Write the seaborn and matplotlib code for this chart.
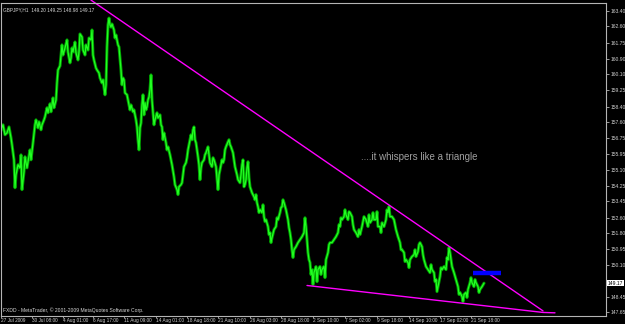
import matplotlib
matplotlib.use("Agg")
import matplotlib.pyplot as plt
import pandas as pd
import seaborn as sns

# ---------------- data ----------------
bar_pos = [1, 3, 5, 7, 9, 11, 12, 14, 15, 16, 18, 20, 21, 22, 24, 25, 27, 28, 30, 31,
           33, 35, 36, 38, 39, 41, 42, 44, 45, 47, 48, 50, 51, 53, 54, 56, 57, 58, 60, 61,
           62, 63, 65, 67, 68, 70, 71, 72, 73, 75, 76, 78, 79, 80, 82, 83, 85, 86, 88, 89,
           91, 92, 93, 94, 96, 97, 99, 100, 102, 103, 105, 106, 107, 108, 109, 110, 111, 112, 114, 115,
           116, 118, 119, 121, 122, 123, 124, 125, 127, 128, 130, 131, 133, 134, 136, 137, 138, 139, 140, 141,
           142, 143, 144, 145, 146, 147, 148, 149, 150, 151, 152, 153, 154, 155, 157, 158, 160, 161, 162, 163,
           164, 166, 167, 168, 170, 171, 172, 174, 175, 177, 178, 179, 181, 182, 183, 184, 186, 187, 188, 189,
           190, 191, 192, 193, 194, 195, 196, 198, 199, 200, 201, 202, 204, 205, 206, 208, 209, 210, 212, 213,
           214, 216, 217, 218, 219, 220, 222, 223, 224, 225, 226, 228, 229, 230, 231, 233, 234, 235, 237, 238,
           240, 241, 242, 243, 244, 245, 246, 247, 248, 249, 250, 252, 254, 255, 256, 257, 258, 259, 260, 262,
           263, 264, 265, 266, 268, 269, 270, 271, 272, 274, 276, 277, 278, 280, 281, 282, 283, 284, 286, 287,
           288, 289, 290, 291, 292, 293, 294, 296, 298, 300, 302, 304, 305, 306, 307, 308, 309, 310, 311, 312,
           313, 314, 316, 317, 318, 320, 321, 322, 324, 325, 326, 328, 329, 330, 332, 334, 336, 338, 339, 340,
           341, 342, 344, 345, 346, 348, 349, 350, 352, 353, 354, 356, 358, 359, 360, 362, 364, 366, 368, 369,
           370, 372, 373, 374, 376, 377, 378, 380, 381, 382, 384, 386, 387, 388, 389, 390, 392, 394, 396, 398,
           400, 401, 402, 404, 405, 406, 408, 409, 410, 412, 414, 415, 416, 418, 419, 420, 422, 423, 424, 426,
           428, 430, 431, 432, 434, 435, 436, 437, 438, 440, 441, 442, 444, 446, 447, 448, 449, 450, 452, 454,
           456, 458, 459, 460, 462, 463, 464, 466, 467, 468, 470, 471, 472, 474, 475, 476, 478, 479, 480, 482,
           484]

close = [157.19, 157.45, 156.93, 157.03, 157.34, 156.77, 156.41, 155.62, 154.16, 154.84,
         155.36, 155.20, 155.88, 154.06, 155.00, 155.78, 155.20, 155.52, 156.14, 155.62,
         156.51, 157.45, 157.71, 157.29, 157.61, 157.19, 157.45, 157.71, 157.87, 158.34,
         158.08, 158.55, 158.13, 158.86, 158.34, 158.75, 159.64, 160.32, 160.53, 161.10,
         161.63, 161.10, 161.47, 161.89, 161.26, 160.69, 160.95, 161.47, 161.26, 161.78,
         161.21, 160.84, 161.26, 162.20, 162.04, 161.36, 161.10, 161.63, 161.36, 161.99,
         161.89, 162.41, 161.10, 160.84, 160.42, 160.32, 160.16, 159.90, 159.64, 159.80,
         159.02, 159.54, 161.52, 162.67, 163.03, 162.67, 162.56, 162.72, 162.41, 161.99,
         162.15, 161.63, 161.52, 160.32, 159.54, 159.90, 159.80, 159.12, 159.02, 158.75,
         158.23, 158.49, 158.13, 158.23, 157.71, 157.34, 156.67, 156.14, 157.29, 157.55,
         158.49, 159.02, 157.97, 158.60, 158.23, 158.39, 158.75, 158.91, 159.28, 160.06,
         158.75, 158.08, 157.45, 157.71, 158.08, 157.81, 157.97, 157.45, 157.34, 156.67,
         157.03, 156.51, 156.14, 156.30, 155.88, 155.62, 155.36, 154.73, 154.32, 154.06,
         153.80, 154.21, 154.32, 154.42, 154.84, 155.26, 155.47, 155.73, 156.14, 156.41,
         156.67, 156.93, 156.67, 157.19, 157.34, 156.67, 156.51, 155.78, 155.36, 154.58,
         155.20, 155.47, 155.62, 155.88, 155.99, 156.30, 155.88, 155.47, 155.26, 155.73,
         155.62, 155.26, 154.68, 154.06, 154.84, 155.10, 155.62, 155.47, 155.62, 156.14,
         156.30, 156.56, 156.67, 156.41, 156.30, 155.99, 155.62, 155.26, 154.84, 154.58,
         154.42, 154.84, 155.36, 155.62, 154.21, 154.32, 154.58, 155.20, 155.52, 154.68,
         154.21, 153.90, 153.69, 153.53, 153.80, 153.38, 153.17, 152.86, 153.01, 152.86,
         153.27, 152.65, 152.39, 152.49, 152.13, 151.71, 151.81, 151.29, 151.55, 151.97,
         152.13, 152.59, 152.49, 152.86, 153.12, 153.17, 153.53, 153.38, 153.01, 152.75,
         152.49, 152.07, 151.81, 151.45, 150.92, 150.51, 150.92, 151.08, 151.29, 151.45,
         151.60, 151.81, 152.59, 152.13, 151.45, 150.77, 150.40, 150.25, 149.62, 149.88,
         149.10, 149.72, 150.04, 149.25, 149.88, 150.04, 149.62, 149.88, 150.04, 149.46,
         150.40, 150.77, 151.19, 151.29, 151.29, 151.45, 151.60, 151.81, 152.23, 152.13,
         152.59, 152.49, 152.65, 153.01, 152.75, 152.49, 152.91, 152.86, 152.65, 152.23,
         151.97, 151.81, 151.60, 151.97, 151.71, 152.13, 152.65, 152.49, 152.13, 152.75,
         152.33, 152.49, 152.86, 152.49, 152.49, 152.91, 152.13, 152.13, 151.81, 152.33,
         152.13, 152.49, 153.01, 152.86, 153.17, 152.65, 152.65, 152.49, 151.97, 151.60,
         151.29, 150.92, 150.92, 150.77, 150.30, 150.40, 150.25, 149.98, 150.40, 150.56,
         150.66, 150.92, 150.56, 150.82, 151.19, 151.29, 151.08, 150.66, 150.40, 150.04,
         149.88, 149.72, 150.14, 149.88, 149.72, 149.25, 149.36, 148.73, 148.99, 149.52,
         149.98, 149.88, 150.04, 149.88, 150.51, 150.40, 151.03, 150.77, 150.04, 149.72,
         149.36, 148.99, 148.58, 148.68, 148.47, 148.21, 148.58, 148.68, 148.42, 148.84,
         149.20, 149.46, 149.20, 148.99, 149.36, 149.20, 148.99, 148.68, 148.84, 148.99,
         149.17]

# trend lines (triangle) and pending-order marker
upper_trend_pos = [91, 543]
upper_trend_price = [163.97, 147.72]
lower_trend_pos = [307, 543, 555]
lower_trend_price = [149.05, 147.64, 147.62]
order_pos = [473, 501]
order_price = 149.68

# axis labels
date_tick_pos = [1, 32, 63, 93, 124, 156, 187, 218, 250, 281, 313, 345, 377, 409, 440, 471]
date_labels = ["27 Jul 2009", "30 Jul 08:00", "4 Aug 01:00", "6 Aug 17:00", "11 Aug 09:00",
               "14 Aug 01:00", "18 Aug 18:00", "21 Aug 10:00", "26 Aug 03:00", "28 Aug 18:00",
               "2 Sep 10:00", "7 Sep 02:00", "9 Sep 18:00", "14 Sep 10:00", "17 Sep 02:00",
               "21 Sep 18:00"]
price_ticks = [163.40, 162.60, 161.75, 160.90, 160.10, 159.25, 158.40, 157.60, 156.75,
               155.95, 155.10, 154.25, 153.45, 152.60, 151.80, 150.95, 150.10, 148.45, 147.65]
last_price = 149.17
header = "GBPJPY,H1  149.20 149.25 148.98 149.17"
footer = "FXDD - MetaTrader, \u00a9 2001-2009 MetaQuotes Software Corp."
note = "....it whispers like a triangle"

# ---------------- drawing ----------------
sns.set_style("dark")
plt.rcParams["font.family"] = ["Liberation Sans", "DejaVu Sans"]

df = pd.DataFrame({"pos": bar_pos, "price": close})

fig = plt.figure(figsize=(6.25, 3.24), dpi=100, facecolor="black")
ax = fig.add_axes([1 / 625, 8.5 / 324, 605 / 625, 312.5 / 324], facecolor="black")

sns.lineplot(data=df, x="pos", y="price", color="#009a00", lw=2.2, ax=ax)
sns.lineplot(data=df, x="pos", y="price", color="#22ff22", lw=0.9, ax=ax)

ax.plot(upper_trend_pos, upper_trend_price, color="#ff00ff", lw=1.0, clip_on=False)
ax.plot(lower_trend_pos, lower_trend_price, color="#ff00ff", lw=1.0)
ax.plot(order_pos, [order_price, order_price], color="#0000ff", lw=3.2,
        solid_capstyle="butt")

ax.set_xlim(1, 606)
ax.set_ylim(147.48, 163.82)
ax.set_xlabel("")
ax.set_ylabel("")
ax.grid(False)

for sp in ax.spines.values():
    sp.set_color("#b4b4b4")
    sp.set_linewidth(0.8)
    sp.set_visible(True)

ax.yaxis.tick_right()
ax.set_yticks(price_ticks)
ax.set_yticklabels([f"{p:.2f}" for p in price_ticks])
ax.tick_params(axis="y", which="both", right=True, left=False, length=2, width=0.6,
               color="#b4b4b4", labelcolor="#d0d0d0", labelsize=3.6, pad=1)

ax.set_xticks(date_tick_pos)
ax.set_xticklabels(date_labels)
ax.tick_params(axis="x", which="both", bottom=True, length=1.5, width=0.6,
               color="#b4b4b4", labelcolor="#d0d0d0", labelsize=3.4, pad=0.2)
for lbl in ax.get_xticklabels():
    lbl.set_horizontalalignment("left")

ax.text(606 + 1.5, last_price, f"{last_price:.2f}", transform=ax.transData,
        fontsize=3.6, color="black", ha="left", va="center", clip_on=False,
        bbox=dict(boxstyle="square,pad=0.15", facecolor="white", edgecolor="none"))

ax.text(0.004, 0.985, header, transform=ax.transAxes, fontsize=3.4,
        color="#d8d8d8", ha="left", va="top")
ax.text(0.004, 0.008, footer, transform=ax.transAxes, fontsize=3.6,
        color="#d8d8d8", ha="left", va="bottom")
ax.text(361, 155.78, note, fontsize=7.0, color="#a0a0a0", ha="left", va="center")

fig.savefig("out.png", dpi=100, facecolor="black")
